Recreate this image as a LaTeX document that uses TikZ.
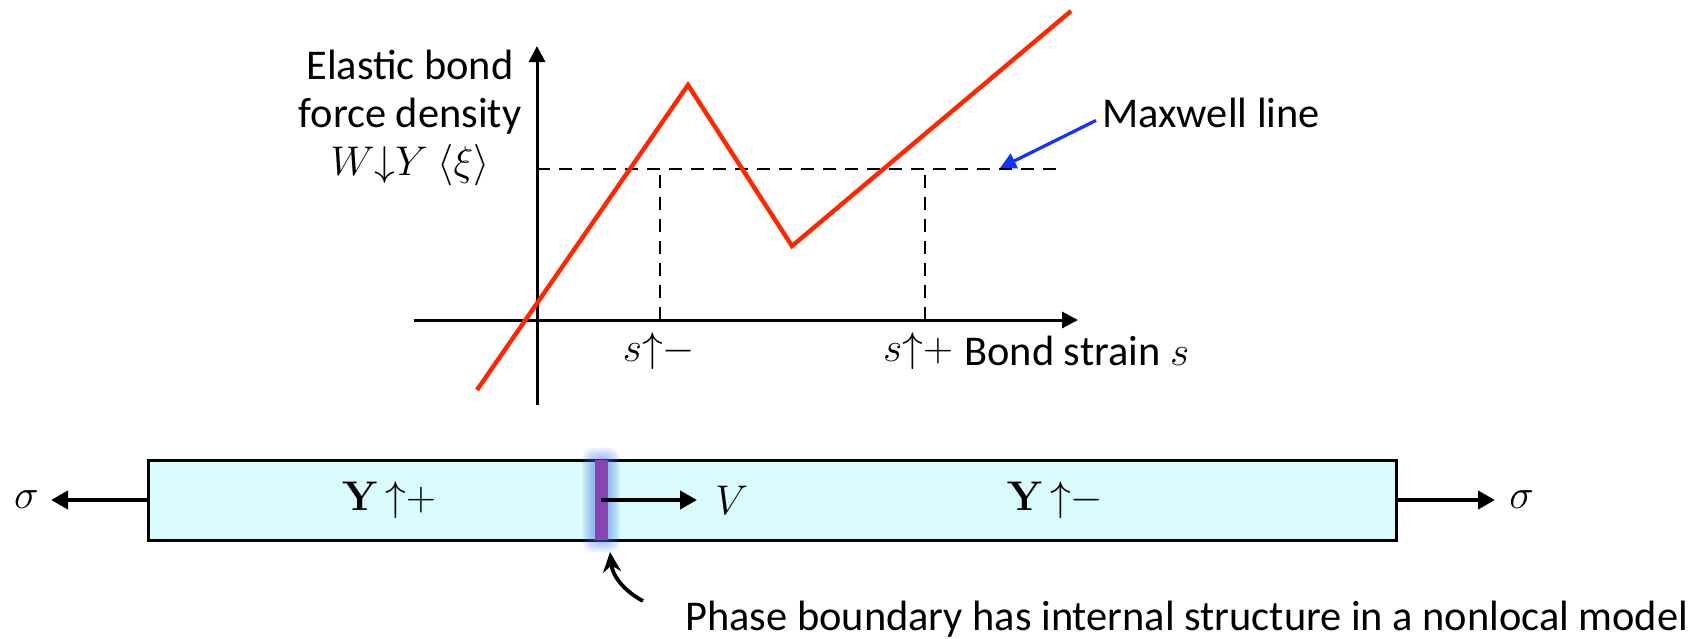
\documentclass[tikz,border=0pt]{standalone}
\usepackage{amsmath,amssymb}
\usepackage[no-math]{fontspec}
\setmainfont{Carlito}
\usepackage{xcolor}
\usetikzlibrary{arrows.meta, positioning}
\definecolor{curvered}{RGB}{255,38,0}
\definecolor{maxblue}{RGB}{20,50,255}
\definecolor{barcyan}{RGB}{217,251,253}
\definecolor{phasepurple}{RGB}{135,70,175}
\definecolor{glowblue}{RGB}{70,120,230}

\begin{document}
\begin{tikzpicture}[
  x=0.5pt, y=-0.5pt,
  every node/.style={font=\fontsize{21.2}{24}\selectfont, inner sep=1pt},
  axis/.style={-{Triangle[length=8pt,width=8pt]}, line width=1.5pt},
  dashline/.style={dash pattern=on 6.5pt off 4.5pt, line width=1.4pt},
  curve/.style={curvered, line width=2.2pt, line join=miter},
  force/.style={-{Triangle[length=8.5pt,width=9pt]}, line width=2pt},
  pointer/.style={-{Triangle[length=8pt,width=8pt]}, maxblue, line width=1.6pt},
  callout/.style={-{Stealth[length=10pt,width=9pt]}, line width=1.9pt},
]
\useasboundingbox (0,0) rectangle (1708,638);

% axes of the force--strain plot
\coordinate (ybot) at (537,405);
\coordinate (ytop) at (537,46);
\coordinate (xleft) at (414,320);
\coordinate (xright) at (1078,320);
\draw[axis] (ybot) -- (ytop);
\draw[axis] (xleft) -- (xright);

% Maxwell line and the two strains
\coordinate (mleft) at (537,169);
\coordinate (mright) at (1059,169);
\coordinate (sminus) at (660,320);
\coordinate (splus) at (925,320);
\draw[dashline] (mleft) -- (mright);
\draw[dashline] (sminus) -- (sminus |- mleft);
\draw[dashline] (splus) -- (splus |- mleft);

% elastic bond force
\draw[curve] (477,390) -- (688,85) -- (792,246) -- (1071,11);

\node[align=center] (ylabel) at (410,118)
  {Elastic bond\\force density\\$W{\downarrow}Y\ \langle\xi\rangle$};
\node (sminuslbl) at (659,351) {$s{\uparrow}{-}$};
\node (spluslbl) at (918,351) {$s{\uparrow}{+}$};
\node[anchor=base west] (xlabel) at (962,365) {Bond strain $s$};

\node[anchor=base west] (maxlbl) at (1100,127) {Maxwell line};
\coordinate (maxtip) at (1000,168);
\draw[pointer] ([xshift=-2pt,yshift=-4pt]maxlbl.west) -- (maxtip);

% bar with the moving phase boundary
\node[draw, line width=1.5pt, fill=barcyan, minimum width=624pt,
      minimum height=40pt] (bar) at (772,500) {};
\foreach \g in {12,10,8,6,4,2}
  \fill[glowblue, opacity=0.1, rounded corners=5pt]
    (601-6.5-\g,460-\g) rectangle (601+6.5+\g,540+\g);
\node[fill=phasepurple, minimum width=6.5pt, minimum height=40pt,
      inner sep=0pt] (pb) at (601,500) {};

\node (yplus) at (389,500) {$\mathbf{Y}\,{\uparrow}{+}$};
\node (yminus) at (1055,500) {$\mathbf{Y}\,{\uparrow}{-}$};

\coordinate (tipleft) at (51,500);
\coordinate (tipright) at (1495,500);
\coordinate (vtip) at (697,500);
\draw[force] (bar.west) -- (tipleft);
\draw[force] (bar.east) -- (tipright);
\draw[force] (pb.center) -- (vtip);
\node[left=5pt of tipleft] (sigleft) {$\sigma$};
\node[right=6pt of tipright] (sigright) {$\sigma$};
\node[right=8pt of vtip] (vlbl) {$V$};

\node[anchor=base west] (pblbl) at (683,630)
  {Phase boundary has internal structure in a nonlocal model};
\coordinate (pbtail) at (643,601);
\coordinate (pbtip) at (610,552);
\draw[callout] (pbtail) to[bend left=28] (pbtip);
\end{tikzpicture}
\end{document}
